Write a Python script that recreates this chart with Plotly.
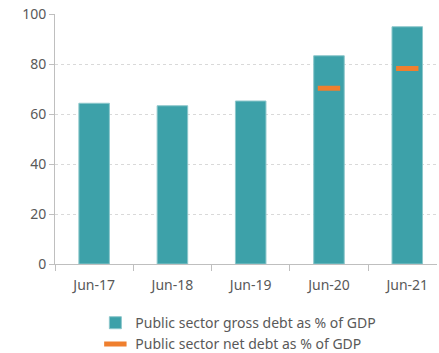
import plotly.graph_objects as go

categories = ["Jun-17", "Jun-18", "Jun-19", "Jun-20", "Jun-21"]
gross_debt = [64.3, 63.3, 65.2, 83.3, 94.9]
net_cats = ["Jun-20", "Jun-21"]
net_debt = [70.3, 78.2]

fig = go.Figure()
fig.add_trace(go.Bar(
    x=categories, y=gross_debt, name="Public sector gross debt as % of GDP",
    marker=dict(color="#3DA1A9", line=dict(color="#8CC7CB", width=1)),
    width=0.39,
))
fig.add_trace(go.Scatter(
    x=net_cats, y=net_debt, name="Public sector net debt as % of GDP",
    mode="markers",
    marker=dict(symbol="line-ew-open", size=16, color="#EF7F2E",
                line=dict(color="#EF7F2E", width=5)),
))

fig.update_layout(
    width=439, height=353,
    margin=dict(l=55, r=2, t=14, b=89, autoexpand=False),
    paper_bgcolor="white", plot_bgcolor="white",
    font=dict(family="Noto Sans, Open Sans, sans-serif", size=13, color="#595959"),
    showlegend=True,
    legend=dict(x=0.48, xanchor="center", xref="paper", y=0.13, yanchor="top", yref="container",
                orientation="v", font=dict(size=14, color="#595959"),
                itemwidth=30, tracegroupgap=0),
    bargap=0.6,
)
fig.update_xaxes(
    type="category", range=[-0.5, 4.38],
    showline=True, linecolor="#BFBFBF", linewidth=1,
    ticks="outside", tickson="boundaries", ticklen=6, tickcolor="#BFBFBF",
    ticklabelstandoff=8,
    showgrid=False, tickfont=dict(size=14),
)
fig.update_yaxes(
    range=[0, 100], dtick=20,
    showline=True, linecolor="#BFBFBF", linewidth=1,
    ticks="outside", ticklen=5, tickcolor="#BFBFBF",
    showgrid=True, gridcolor="#D9D9D9", griddash="dot", gridwidth=1,
    zeroline=False, tickfont=dict(size=14),
)

fig.write_html("out.html")
